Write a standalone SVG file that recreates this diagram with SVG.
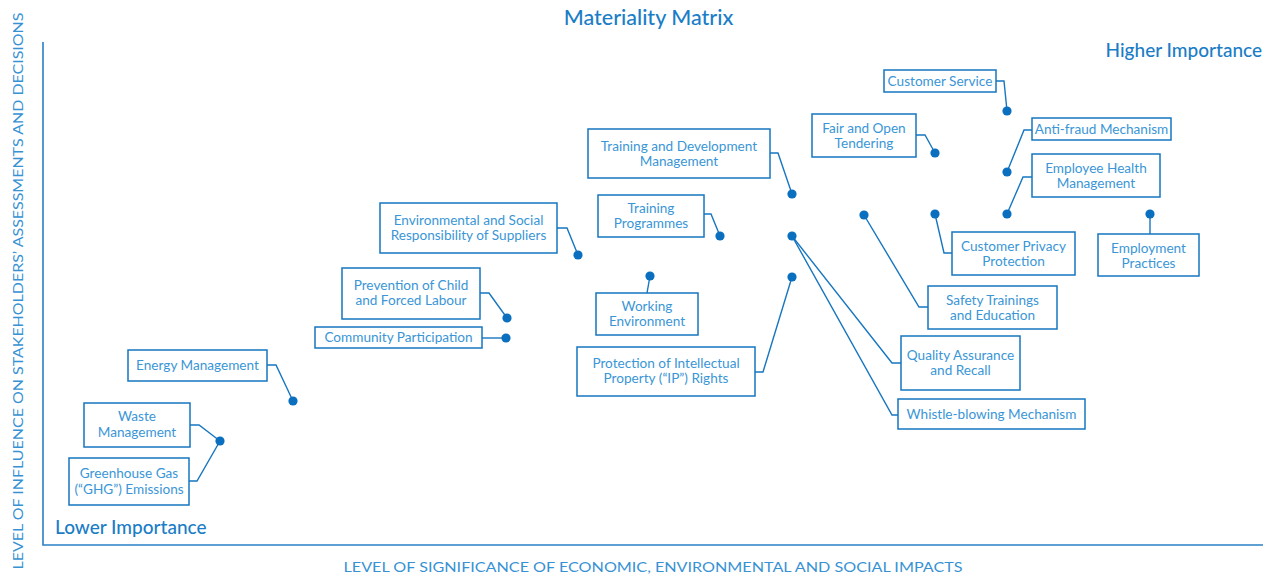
<svg xmlns="http://www.w3.org/2000/svg" width="1272" height="577" viewBox="0 0 1272 577">
<defs>
<style>
.box{fill:#fff;stroke:#1676c0;stroke-width:1.5}
.lbl{font-family:Lato,"Open Sans","Liberation Sans",sans-serif;font-size:13.6px;fill:#3a96d6;text-anchor:middle}
.con{fill:none;stroke:#1676c0;stroke-width:1.4}
.dot{fill:#0a6fbf}
.hd{font-family:Lato,"Open Sans","Liberation Sans",sans-serif;fill:#1a7dc6}
.ax{font-family:Lato,"Open Sans","Liberation Sans",sans-serif;font-size:14px;font-weight:400;fill:#3792d4}
</style>
</defs>
<rect width="1272" height="577" fill="#fff"/>
<g id="axes">
<path d="M43 42 V545 H1263" fill="none" stroke="#2a80c6" stroke-width="1.6"/>
<text class="ax" x="653" y="572" text-anchor="middle" textLength="619" lengthAdjust="spacingAndGlyphs">LEVEL OF SIGNIFICANCE OF ECONOMIC, ENVIRONMENTAL AND SOCIAL IMPACTS</text>
<text class="ax" transform="translate(23,291) rotate(-90)" text-anchor="middle" textLength="557" lengthAdjust="spacingAndGlyphs">LEVEL OF INFLUENCE ON STAKEHOLDERS’ ASSESSMENTS AND DECISIONS</text>
<text class="hd" x="648.5" y="25" text-anchor="middle" font-size="21.5" font-weight="500">Materiality Matrix</text>
<text class="hd" x="1262" y="57" text-anchor="end" font-size="19" font-weight="500">Higher Importance</text>
<text class="hd" x="55" y="534" font-size="19" font-weight="500">Lower Importance</text>
</g>
<g id="connectors">
<path class="con" d="M996 81 H1004 L1007 111"/>
<path class="con" d="M916 135 H925 L935 153"/>
<path class="con" d="M1032 130 H1024 L1007 172"/>
<path class="con" d="M1032 177 H1023 L1007 214"/>
<path class="con" d="M935 214 L944 253 H952"/>
<path class="con" d="M1150 214 V234"/>
<path class="con" d="M864 215 L919 307 H928"/>
<path class="con" d="M792 236 L892 363 H901"/>
<path class="con" d="M792 236 L892 415 H898"/>
<path class="con" d="M770 153 H778 L792 194"/>
<path class="con" d="M704 214 H711 L720 236"/>
<path class="con" d="M557 228 H567 L578 255"/>
<path class="con" d="M480 293 H489 L507 318"/>
<path class="con" d="M482 338 H497 L506 338"/>
<path class="con" d="M650 276 L647 293"/>
<path class="con" d="M755 372 H763 L792 277"/>
<path class="con" d="M267 365 H276 L293 401"/>
<path class="con" d="M190 425 H199 L220 441"/>
<path class="con" d="M189 481 H197 L220 441"/>
<g class="dot">
<circle cx="1007" cy="111" r="4.6"/>
<circle cx="935" cy="153" r="4.6"/>
<circle cx="1007" cy="172" r="4.6"/>
<circle cx="1007" cy="214" r="4.6"/>
<circle cx="935" cy="214" r="4.6"/>
<circle cx="1150" cy="214" r="4.6"/>
<circle cx="864" cy="215" r="4.6"/>
<circle cx="792" cy="236" r="4.6"/>
<circle cx="792" cy="194" r="4.6"/>
<circle cx="720" cy="236" r="4.6"/>
<circle cx="578" cy="255" r="4.6"/>
<circle cx="507" cy="318" r="4.6"/>
<circle cx="506" cy="338" r="4.6"/>
<circle cx="650" cy="276" r="4.6"/>
<circle cx="792" cy="277" r="4.6"/>
<circle cx="293" cy="401" r="4.6"/>
<circle cx="220" cy="441" r="4.6"/>
</g>
</g>
<g id="customer-service"><rect class="box" x="884" y="70" width="112" height="22"/><text class="lbl" x="940" y="86">Customer Service</text></g>
<g id="fair-open-tendering"><rect class="box" x="812" y="114" width="104" height="43"/><text class="lbl" x="864" y="133">Fair and Open</text><text class="lbl" x="864" y="148">Tendering</text></g>
<g id="anti-fraud"><rect class="box" x="1032" y="118" width="139" height="22"/><text class="lbl" x="1101.5" y="134">Anti-fraud Mechanism</text></g>
<g id="employee-health"><rect class="box" x="1032" y="154" width="128" height="43"/><text class="lbl" x="1096" y="173">Employee Health</text><text class="lbl" x="1096" y="188">Management</text></g>
<g id="customer-privacy"><rect class="box" x="952" y="232" width="123" height="43"/><text class="lbl" x="1013.5" y="251">Customer Privacy</text><text class="lbl" x="1013.5" y="266">Protection</text></g>
<g id="employment-practices"><rect class="box" x="1098" y="234" width="101" height="42"/><text class="lbl" x="1148.5" y="252.5">Employment</text><text class="lbl" x="1148.5" y="267.5">Practices</text></g>
<g id="safety-trainings"><rect class="box" x="928" y="286" width="129" height="43"/><text class="lbl" x="992.5" y="305">Safety Trainings</text><text class="lbl" x="992.5" y="320">and Education</text></g>
<g id="quality-assurance"><rect class="box" x="901" y="336" width="119" height="54"/><text class="lbl" x="960.5" y="360">Quality Assurance</text><text class="lbl" x="960.5" y="375">and Recall</text></g>
<g id="whistle-blowing"><rect class="box" x="898" y="399" width="187" height="30"/><text class="lbl" x="991.5" y="419">Whistle-blowing Mechanism</text></g>
<g id="training-development"><rect class="box" x="588" y="129" width="182" height="49"/><text class="lbl" x="679" y="151">Training and Development</text><text class="lbl" x="679" y="166">Management</text></g>
<g id="training-programmes"><rect class="box" x="598" y="195" width="106" height="42"/><text class="lbl" x="651" y="213">Training</text><text class="lbl" x="651" y="228">Programmes</text></g>
<g id="env-social-suppliers"><rect class="box" x="380" y="203" width="177" height="50"/><text class="lbl" x="468.5" y="225">Environmental and Social</text><text class="lbl" x="468.5" y="240">Responsibility of Suppliers</text></g>
<g id="child-forced-labour"><rect class="box" x="342" y="268" width="138" height="51"/><text class="lbl" x="411" y="290">Prevention of Child</text><text class="lbl" x="411" y="305">and Forced Labour</text></g>
<g id="community-participation"><rect class="box" x="315" y="327" width="167" height="21"/><text class="lbl" x="398.5" y="342">Community Participation</text></g>
<g id="working-environment"><rect class="box" x="596" y="293" width="102" height="42"/><text class="lbl" x="647" y="311">Working</text><text class="lbl" x="647" y="326">Environment</text></g>
<g id="ip-rights"><rect class="box" x="577" y="347" width="178" height="49"/><text class="lbl" x="666" y="368">Protection of Intellectual</text><text class="lbl" x="666" y="383">Property (“IP”) Rights</text></g>
<g id="energy-management"><rect class="box" x="128" y="350" width="139" height="31"/><text class="lbl" x="197.5" y="370">Energy Management</text></g>
<g id="waste-management"><rect class="box" x="84" y="403" width="106" height="44"/><text class="lbl" x="137" y="421">Waste</text><text class="lbl" x="137" y="437">Management</text></g>
<g id="ghg-emissions"><rect class="box" x="69" y="458" width="120" height="47"/><text class="lbl" x="129" y="478">Greenhouse Gas</text><text class="lbl" x="129" y="494">(“GHG”) Emissions</text></g>
</svg>
